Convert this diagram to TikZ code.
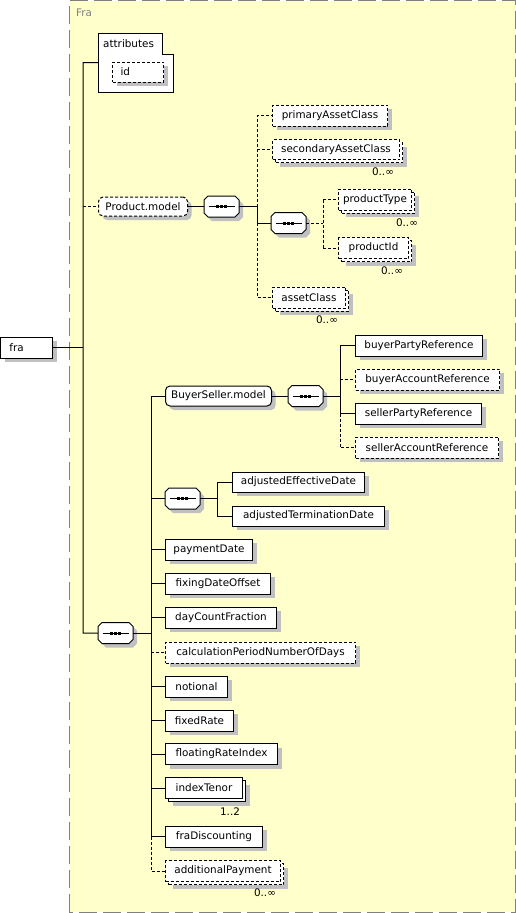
\documentclass[tikz,border=0pt]{standalone}
\usepackage{fontspec}
\setmainfont{DejaVu Sans}
\usetikzlibrary{calc}
\definecolor{bgyellow}{HTML}{FFFFCC}
\definecolor{shadowgray}{HTML}{C0C0C0}
\definecolor{framegray}{HTML}{808080}
\pgfdeclarelayer{bg}
\pgfdeclarelayer{shapes}
\pgfsetlayers{bg,shapes,main}
\tikzset{
  every node/.style={font=\fontsize{10.4}{12}\selectfont},
  conn/.style={line width=1pt},
  opt/.style={dash pattern=on 3pt off 2pt},
  box/.style={draw, fill=white, line width=1pt, anchor=west, minimum height=21pt, inner sep=0pt},
  elem/.style={box, preaction={fill=shadowgray, transform canvas={shift={(4pt,-4pt)}}}},
  multi/.style={box, preaction={fill=shadowgray, transform canvas={shift={(7pt,-7pt)}}},
                preaction={draw, fill=white, line width=1pt, transform canvas={shift={(3pt,-3pt)}}}},
  multiopt/.style={box, opt, preaction={fill=shadowgray, transform canvas={shift={(7pt,-7pt)}}},
                preaction={draw, fill=white, line width=1pt, opt, transform canvas={shift={(3pt,-3pt)}}}},
  grp/.style={elem, rounded corners=4.5pt, minimum height=19pt},
  seqbox/.style={anchor=west, draw=none, inner sep=0pt, outer sep=0pt, minimum width=35pt, minimum height=21pt},
  mult/.style={anchor=center, inner sep=0pt},
}
\begin{document}
\begin{tikzpicture}[x=1pt,y=-1pt]
\useasboundingbox (0,0) rectangle (516,913);
% background frame
\begin{pgfonlayer}{bg}
\fill[bgyellow] (69,0.5) rectangle (515.5,912);
\draw[framegray, line width=1pt, dash pattern=on 18pt off 6pt] (69,912) -- (69,0.5) -- (515.5,0.5) -- (515.5,912) -- cycle;
\end{pgfonlayer}
\node[anchor=west, text=framegray, inner sep=0pt] (title) at (76,13) {Fra};

% root
\node[elem, minimum width=52pt, text width=52pt, align=left] (fra) at (0,347.5) {\hspace*{9pt}fra};

% attributes
\node[draw=none, anchor=north west, minimum width=75pt, minimum height=59pt, inner sep=0pt] (attr) at (98,33) {};
\draw[line width=1pt, fill=white] (attr.north west) -- ++(64,0) -- ++(0,21) -- ++(11,0) |- (attr.south west) -- cycle;
\node[anchor=west, inner sep=0pt] (attrlabel) at (103,43.5) {attributes};
\node[elem, opt, minimum width=51pt, text width=51pt, align=left, minimum height=20pt] (id) at (112,72) {\hspace*{8pt}id};

% Product.model branch
\node[grp, opt, minimum width=89pt] (pm) at (98,206.5) {Product.model};
\node[seqbox] (seqA) at (204,206.5) {};
\node[elem, opt, minimum width=115pt] (pac) at (272,115.5) {primaryAssetClass};
\node[multiopt, minimum width=127pt, minimum height=20pt] (sac) at (272,149.5) {secondaryAssetClass};
\node[mult] at (383,172) {0..∞};
\node[seqbox] (seqB) at (271,223) {};
\node[multiopt, minimum width=73pt] (pt) at (338,199.5) {productType};
\node[mult] at (407,223) {0..∞};
\node[multiopt, minimum width=70pt] (pid) at (338,248) {productId};
\node[mult] at (392,271) {0..∞};
\node[multiopt, minimum width=73pt] (ac) at (272,297.5) {assetClass};
\node[mult] at (327,320) {0..∞};

% main sequence
\node[seqbox] (seqE) at (98,633) {};
\node[grp, minimum width=106pt, minimum height=20pt] (bsm) at (165,396) {BuyerSeller.model};
\node[seqbox] (seqC) at (288,396) {};
\node[elem, minimum width=127pt] (bpr) at (355,345.5) {buyerPartyReference};
\node[elem, opt, minimum width=144pt] (bar) at (355,379.5) {buyerAccountReference};
\node[elem, minimum width=126pt] (spr) at (355,413.5) {sellerPartyReference};
\node[elem, opt, minimum width=143pt] (sar) at (355,447.5) {sellerAccountReference};
\node[seqbox] (seqD) at (165,498.5) {};
\node[elem, minimum width=132pt, minimum height=20pt] (aed) at (232,482) {adjustedEffectiveDate};
\node[elem, minimum width=152pt, minimum height=20pt] (atd) at (232,516) {adjustedTerminationDate};
\node[elem, minimum width=87pt] (pd) at (165,549.5) {paymentDate};
\node[elem, minimum width=105pt] (fdo) at (165,583.5) {fixingDateOffset};
\node[elem, minimum width=111pt] (dcf) at (165,617.5) {dayCountFraction};
\node[elem, opt, minimum width=190pt] (cpn) at (165,652.5) {calculationPeriodNumberOfDays};
\node[elem, minimum width=62pt] (nt) at (165,686.5) {notional};
\node[elem, minimum width=68pt] (fr) at (165,720.5) {fixedRate};
\node[elem, minimum width=112pt] (fri) at (165,754) {floatingRateIndex};
\node[multi, minimum width=77pt] (it) at (165,788) {indexTenor};
\node[mult] at (230,812) {1..2};
\node[elem, minimum width=97pt] (fd) at (165,836.5) {fraDiscounting};
\node[multiopt, minimum width=115pt] (ap) at (165,871) {additionalPayment};
\node[mult] at (265,893) {0..∞};

% sequence compositor shapes and symbols
\foreach \s in {seqA,seqB,seqC,seqD,seqE}{
  \begin{pgfonlayer}{shapes}
  \fill[shadowgray, transform canvas={shift={(4pt,-4pt)}}]
    ($(\s.north west)+(4,0)$) -- ($(\s.north east)+(-4,0)$) -- ($(\s.north east)+(0,4)$) -- ($(\s.south east)+(0,-4)$) -- ($(\s.south east)+(-4,0)$) -- ($(\s.south west)+(4,0)$) -- ($(\s.south west)+(0,-4)$) -- ($(\s.north west)+(0,4)$) -- cycle;
  \draw[fill=white, line width=1pt]
    ($(\s.north west)+(4,0)$) -- ($(\s.north east)+(-4,0)$) -- ($(\s.north east)+(0,4)$) -- ($(\s.south east)+(0,-4)$) -- ($(\s.south east)+(-4,0)$) -- ($(\s.south west)+(4,0)$) -- ($(\s.south west)+(0,-4)$) -- ($(\s.north west)+(0,4)$) -- cycle;
  \end{pgfonlayer}
  \draw[line width=1pt] ($(\s.center)+(-13,0)$) -- ($(\s.center)+(13,0)$);
  \foreach \dx in {-4,0,4}
    \fill ($(\s.center)+(\dx-1.5,-1.5)$) rectangle +(3,3);
}

% trunk
\coordinate (tA) at (83,62.5);
\draw[conn] (attr.west) -- (tA) -- (tA |- seqE.west) -- (seqE.west);
\draw[conn] (fra.east) -- (fra.east -| tA);
\draw[conn, opt] (pm.west -| tA) -- (pm.west);
\draw[conn] (pm.east) -- (seqA.west);

% product model sequence
\coordinate (vA) at (257,206.5);
\draw[conn] (seqA.east) -- (vA) -- (vA |- seqB.west) -- (seqB.west);
\draw[conn, opt] (vA) -- (vA |- pac.west) -- (pac.west);
\draw[conn, opt] (vA |- sac.west) -- (sac.west);
\draw[conn, opt] (vA |- seqB.west) -- (vA |- ac.west) -- (ac.west);
\coordinate (vB) at (323,223);
\draw[conn, opt] (seqB.east) -- (vB);
\draw[conn, opt] (vB |- pt.west) -- (vB |- pid.west);
\draw[conn, opt] (vB |- pt.west) -- (pt.west);
\draw[conn, opt] (vB |- pid.west) -- (pid.west);

% main sequence
\coordinate (vE) at (151,633);
\draw[conn] (seqE.east) -- (vE);
\draw[conn] (vE |- bsm.west) -- (vE |- fd.west);
\draw[conn, opt] (vE |- fd.west) -- (vE |- ap.west) -- (ap.west);
\foreach \n in {bsm,seqD,pd,fdo,dcf,nt,fr,fri,it,fd}
  \draw[conn] (vE |- \n.west) -- (\n.west);
\draw[conn, opt] (vE |- cpn.west) -- (cpn.west);

% buyer seller
\draw[conn] (bsm.east) -- (seqC.west);
\coordinate (vC) at (340,396);
\draw[conn] (seqC.east) -- (vC);
\draw[conn] (vC |- bpr.west) -- (vC |- spr.west);
\draw[conn, opt] (vC |- spr.west) -- (vC |- sar.west) -- (sar.west);
\draw[conn] (vC |- bpr.west) -- (bpr.west);
\draw[conn, opt] (vC |- bar.west) -- (bar.west);
\draw[conn] (vC |- spr.west) -- (spr.west);

% dates
\coordinate (vD) at (217,498.5);
\draw[conn] (seqD.east) -- (vD);
\draw[conn] (vD |- aed.west) -- (vD |- atd.west);
\draw[conn] (vD |- aed.west) -- (aed.west);
\draw[conn] (vD |- atd.west) -- (atd.west);
\end{tikzpicture}
\end{document}
